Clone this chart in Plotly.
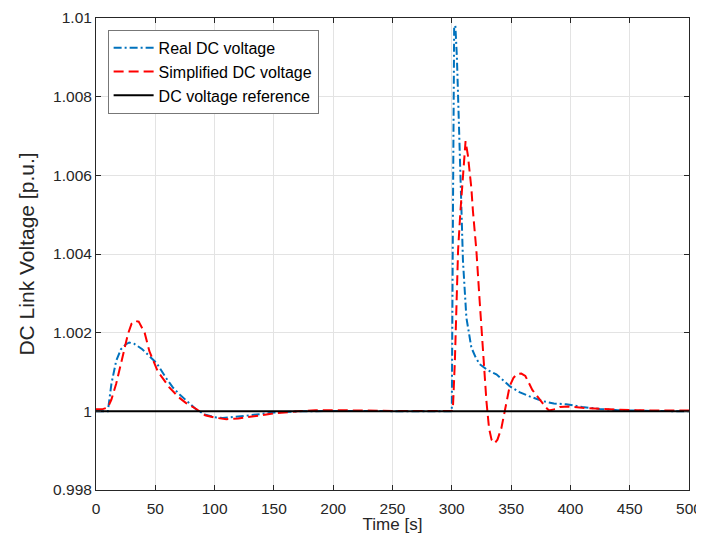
import plotly.graph_objects as go

# Real DC voltage (blue dash-dot)
t_real = [0, 10, 13, 17, 21, 25, 28, 32, 39, 45, 51, 59, 65, 70.5, 78, 84.5, 91.5, 100, 107, 115,
          130, 150, 170, 200, 250, 300, 301, 302, 303, 304.3, 306, 307.2, 308, 309.4, 312.3, 316.5,
          320, 323.5, 330, 337.6, 348.8, 357, 365.6, 376.6, 386, 396.5, 410, 424.5, 440, 452, 470, 500]
v_real = [1.0, 1.0, 1.0007, 1.00128, 1.00158, 1.0017, 1.00175, 1.00172, 1.00158, 1.0014, 1.00123,
          1.00085, 1.0006, 1.00043, 1.00022, 1.00005, 0.99992, 0.99985, 0.99983, 0.99985,
          0.9999, 0.99997, 1.0, 1.00001, 1.0, 1.0, 1.0052, 1.0098, 1.0098, 1.009, 1.0073, 1.006,
          1.00506, 1.00383, 1.00238, 1.00162, 1.00138, 1.0012, 1.00105, 1.00094, 1.00064, 1.00049,
          1.00038, 1.00026, 1.0002, 1.00018, 1.00011, 1.00006, 1.00003, 1.00002, 1.00001, 1.0]

# Simplified DC voltage (red dashed)
t_simp = [0, 5, 10, 13, 17, 21, 24, 27, 30, 33, 36, 39, 41, 45, 52, 62, 70, 76, 84.5, 92, 100, 110,
          120, 135, 150, 170, 185, 200, 220, 250, 300, 301.1, 302.6, 304, 305.3, 307.2, 309.5, 311.6,
          313.6, 316.5, 317.8, 320.7, 323.5, 326.3, 329.2, 331.4, 333.5, 336.2, 338.5, 341.8, 346,
          348.8, 352, 355, 358.6, 362, 368, 374, 379.6, 382, 386, 391, 399, 413, 440, 470, 500]
v_simp = [1.00005, 1.00005, 1.0001, 1.0003, 1.0007, 1.0012, 1.0016, 1.00197, 1.00223, 1.0023,
          1.00228, 1.0021, 1.002, 1.00153, 1.00102, 1.0006, 1.00035, 1.00021, 1.00006, 0.9999,
          0.99984, 0.9998, 0.99982, 0.99988, 0.99995, 1.0, 1.00003, 1.00003, 1.00002, 1.00001,
          1.00001, 1.00018, 1.00128, 1.0028, 1.0041, 1.00506, 1.006, 1.00687, 1.0065, 1.00567,
          1.0051, 1.0041, 1.0028, 1.00146, 1.00026, 0.99957, 0.99928, 0.99919, 0.99928, 0.99957,
          1.00026, 1.00064, 1.00085, 1.00095, 1.00096, 1.0009, 1.00054, 1.0003, 1.00009, 1.00002,
          1.00005, 1.00011, 1.00012, 1.00008, 1.00004, 1.00002, 1.00002]

# DC voltage reference (black)
t_ref = [0, 500]
v_ref = [1.0, 1.0]

x_ticks = [0, 50, 100, 150, 200, 250, 300, 350, 400, 450, 500]
y_ticks = [0.998, 1.0, 1.002, 1.004, 1.006, 1.008, 1.01]
y_tick_text = ["0.998", "1", "1.002", "1.004", "1.006", "1.008", "1.01"]

FONT = "Liberation Sans, Arial, sans-serif"

fig = go.Figure()
fig.add_trace(go.Scatter(x=t_real, y=v_real, mode="lines", name="Real DC voltage",
                         line=dict(color="#0072BD", width=2, dash="8px,3px,2px,3px")))
fig.add_trace(go.Scatter(x=t_simp, y=v_simp, mode="lines", name="Simplified DC voltage",
                         line=dict(color="#FF0000", width=2, dash="10px,5px")))
fig.add_trace(go.Scatter(x=t_ref, y=v_ref, mode="lines", name="DC voltage reference",
                         line=dict(color="#000000", width=2)))

axis_common = dict(showline=True, linecolor="#262626", linewidth=1, mirror="ticks",
                   ticks="inside", ticklen=5, tickcolor="#262626", automargin=False,
                   showgrid=True, gridcolor="#e3e3e3", gridwidth=1, zeroline=False,
                   tickfont=dict(family=FONT, size=15.5, color="#262626"))

fig.update_xaxes(range=[0, 500], tickvals=x_ticks, ticklabelstandoff=4,
                 title=dict(text="Time [s]", font=dict(family=FONT, size=17, color="#262626"),
                            standoff=1),
                 **axis_common)
fig.update_yaxes(range=[0.998, 1.01], tickvals=y_ticks, ticktext=y_tick_text,
                 title=dict(text="DC Link Voltage [p.u.]",
                            font=dict(family=FONT, size=21, color="#262626"), standoff=12),
                 **axis_common)

# the page adds an 8 px body margin, so the figure is sized / offset to compensate
fig.update_layout(
    width=696, height=526,
    margin=dict(l=88, r=15, t=10, b=44),
    paper_bgcolor="white", plot_bgcolor="white",
    font=dict(family=FONT, color="#262626"),
    showlegend=True,
    legend=dict(x=0.0196, y=0.975, xanchor="left", yanchor="top",
                bgcolor="white", bordercolor="#777777", borderwidth=1, itemwidth=40,
                font=dict(family=FONT, size=16, color="black"), tracegroupgap=0),
)

fig.write_html("out.html")
